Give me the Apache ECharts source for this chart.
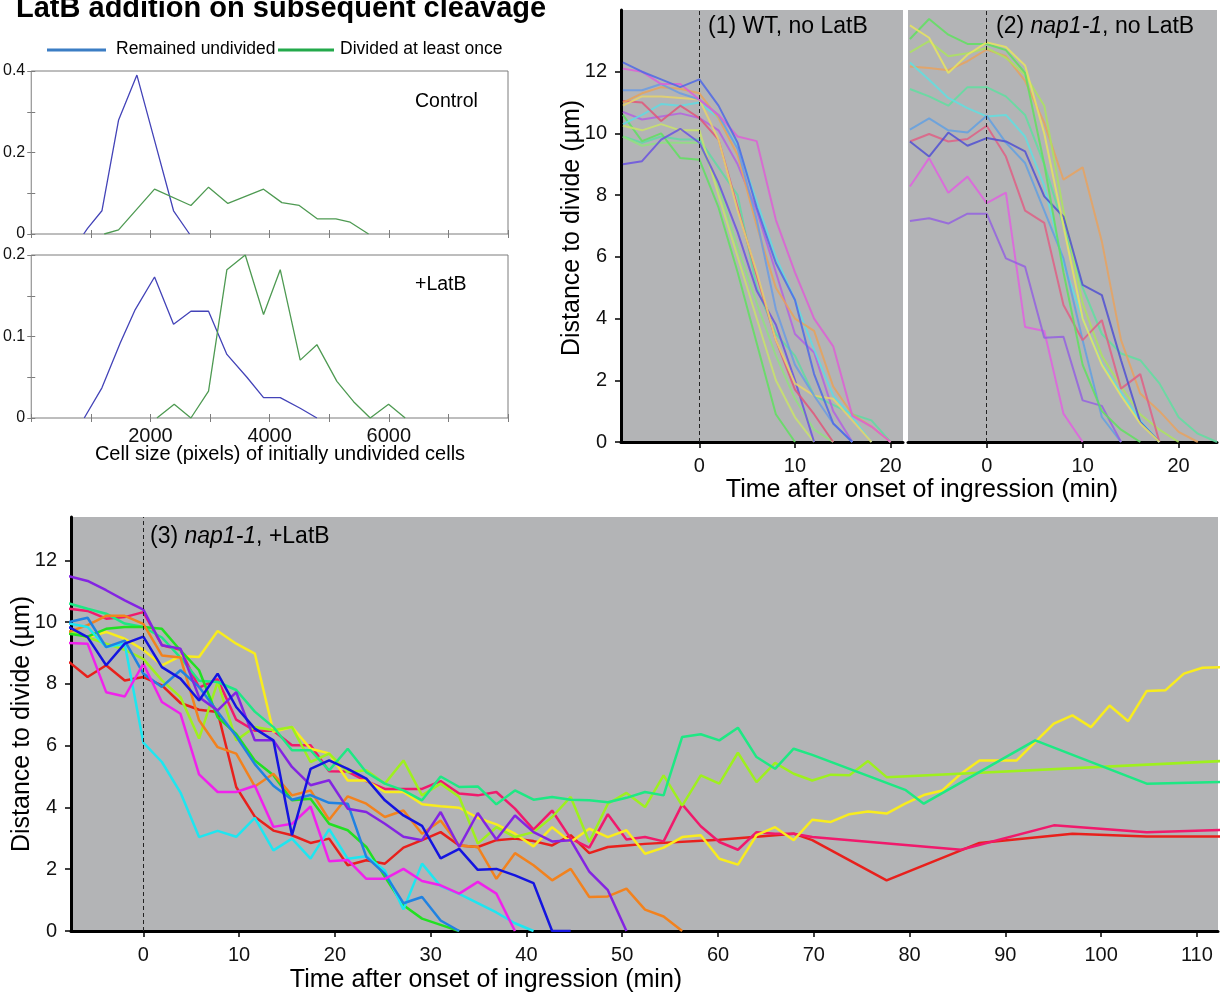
<!DOCTYPE html>
<html>
<head>
<meta charset="utf-8">
<script src="https://cdn.jsdelivr.net/npm/echarts@6/dist/echarts.min.js"></script>
<style>
html,body{margin:0;padding:0;background:#fff;}
#c{width:1229px;height:995px;}
</style>
</head>
<body>
<div id="c"></div>
<script>
const FONT = "'Liberation Sans', Arial, Helvetica, sans-serif";

// ---------- Histograms (cell size, fraction) ----------
const ctrlUndivided = [[880,0],[945,0.014],[1186,0.057],[1466,0.28],[1773,0.39],[2052,0.239],[2388,0.057],[2656,0]];
const ctrlDivided = [[1225,0],[1465,0.01],[2069,0.11],[2679,0.07],[2975,0.115],[3300,0.075],[3898,0.11],[4206,0.077],[4497,0.07],[4804,0.037],[5112,0.037],[5352,0.029],[5660,0]];
const latbUndivided = [[889,0],[1186,0.037],[1493,0.092],[1745,0.133],[2069,0.173],[2388,0.115],[2679,0.131],[2975,0.131],[3283,0.078],[3619,0.05],[3898,0.025],[4178,0.025],[4513,0.012],[4793,0]];
const latbDivided = [[2109,0],[2399,0.017],[2679,0],[2975,0.033],[3283,0.182],[3591,0.2],[3898,0.127],[4178,0.182],[4513,0.071],[4793,0.09],[5129,0.045],[5409,0.02],[5688,0],[5996,0.017],[6275,0]];
const histXLabels = [2000, 4000, 6000];

// ---------- Panels (1) and (2): times every 2 min from -8 ----------
const T12 = [-8,-6,-4,-2,0,2,4,6,8,10,12,14,16,18,20,22,24];
const p1Blue    = [12.3, 12.0, 11.75, 11.5, 11.75, 10.9, 9.7, 7.6, 5.8, 4.6, 2.2, 0.6, 0];
const p1Magenta = [12.1, 12.0, 11.6, 11.6, 11.1, 10.6, 9.9, 9.75, 7.2, 5.5, 4.0, 3.1, 0.85, 0.5, 0];
const p1Steel   = [11.4, 11.4, 11.6, 11.3, 11.1, 10.6, 9.5, 7.2, 4.3, 2.5, 1.5, 0.6, 0];
const p1Orange  = [11.0, 11.3, 11.5, 11.45, 11.3, 10.5, 9.3, 7.0, 5.0, 4.0, 3.6, 1.8, 0.9, 0.5, 0];
const p1Yellow  = [10.9, 11.2, 11.2, 11.15, 11.1, 9.8, 7.5, 5.5, 3.3, 1.9, 1.5, 1.4, 0.7, 0];
const p1Red     = [11.05, 11.0, 10.4, 10.9, 10.5, 9.8, 7.6, 5.4, 3.3, 1.7, 0.9, 0];
const p1Cyan    = [10.3, 10.6, 10.95, 10.9, 11.0, 10.5, 9.6, 7.8, 6.0, 4.6, 3.0, 1.5, 0.8, 0];
const p1Purple  = [10.7, 10.45, 10.55, 10.65, 10.5, 10.1, 9.0, 7.5, 5.5, 3.5, 2.9, 1.0, 0];
const p1Lime    = [10.25, 10.1, 10.3, 10.1, 10.1, 8.0, 6.0, 4.0, 2.0, 0.8, 0];
const p1Green   = [10.6, 9.75, 10.0, 9.2, 9.15, 7.6, 5.5, 3.2, 0.9, 0];
const p1Light   = [9.9, 9.6, 9.7, 9.7, 9.7, 8.3, 6.3, 4.5, 2.8, 1.4, 0.4, 0];
const p1Indigo  = [9.0, 9.1, 9.8, 10.15, 9.7, 8.4, 6.8, 4.9, 3.8, 2.0, 0];
const p1Sea     = [9.9, 9.7, 9.9, 9.8, 9.8, 8.9, 8.0, 5.0, 3.5, 2.8, 1.5, 1.2, 0.9, 0.7, 0];

const p2Green   = [13.06, 13.71, 13.2, 12.9, 12.9, 12.7, 11.96, 9.0, 5.5, 2.5, 1.0, 0.4, 0];
const p2Yellow  = [13.5, 13.1, 11.96, 12.55, 12.95, 12.8, 12.2, 10.0, 7.0, 4.0, 2.5, 1.5, 0.6, 0];
const p2Lime    = [12.63, 12.99, 12.5, 12.6, 12.77, 12.45, 11.9, 10.9, 7.5, 4.5, 2.8, 1.8, 0.9, 0.4, 0];
const p2Orange  = [12.17, 12.12, 12.05, 12.34, 12.72, 12.5, 11.7, 10.34, 8.5, 8.9, 6.5, 3.3, 1.57, 1.0, 0.33, 0];
const p2Teal    = [11.44, 11.2, 10.9, 11.5, 11.5, 11.2, 10.6, 9.0, 7.0, 5.0, 3.5, 2.87, 2.65, 1.9, 0.8, 0.27, 0];
const p2Cyan    = [12.3, 11.74, 11.15, 10.82, 10.55, 10.6, 9.9, 8.3, 5.8, 4.0, 2.54, 1.6, 0.7, 0];
const p2Steel   = [10.12, 10.49, 10.1, 10.03, 10.57, 9.7, 9.04, 7.5, 5.95, 3.3, 0.81, 0];
const p2Red     = [9.74, 9.98, 9.74, 9.82, 10.25, 9.25, 7.5, 7.1, 4.44, 3.3, 3.95, 1.73, 2.2, 0];
const p2Blue    = [9.74, 9.25, 10.03, 9.6, 9.85, 9.74, 9.42, 7.96, 7.3, 5.09, 4.76, 2.65, 0.65, 0];
const p2Magenta = [8.28, 9.2, 8.08, 8.6, 7.74, 8.08, 3.73, 3.6, 0.92, 0];
const p2Purple  = [7.16, 7.25, 7.08, 7.4, 7.4, 5.95, 5.68, 3.38, 3.41, 1.35, 1.17, 0];

// ---------- Panel (3): frames every ~1.94 min ----------
const T3 = [-7.76,-5.82,-3.88,-1.94,0,1.94,3.88,5.82,7.76,9.7,11.64,13.58,15.52,17.46,19.4,21.34,23.28,25.22,27.16,29.1,31.04,32.98,34.92,36.86,38.8,40.74,42.68,44.62,46.56,48.5,50.44,52.38,54.32,56.26,58.2,60.14,62.08,64.02,65.96,67.9,69.84,71.78,73.72,75.66,77.6,79.54,81.48,83.42,85.36,87.3,89.24,91.18,93.12,95.06,97.0,98.94,100.88,102.82,104.76,106.7,108.64,110.58,112.52];
const _ = null;
const p3Purple  = [11.48,11.33,11.03,10.7,10.4,9.25,9.14,7.57,7.14,7.73,6.17,6.17,5.31,4.72,4.88,3.96,3.85,3.47,3.05,2.94,3.85,2.72,3.82,2.96,3.74,3.2,2.9,2.94,1.92,1.32,0];
const p3Blue    = [9.84,9.51,8.6,9.3,9.53,8.54,8.17,7.46,8.33,7.25,6.55,6.17,3.1,5.25,5.52,5.25,4.93,4.23,3.74,3.4,2.35,2.66,1.98,2.01,1.8,1.55,0,0];
const p3Red     = [8.71,8.22,8.6,8.11,8.22,7.95,7.38,7.16,7.09,4.66,3.7,3.25,3.1,2.85,2.99,2.13,2.29,2.18,2.7,2.94,3.2,2.77,2.72,2.94,2.99,2.91,2.77,3.1,2.52,2.72,2.77,2.82,_,_,_,2.95,_,_,_,3.15,2.94,_,_,_,1.64,_,_,_,_,2.85,_,_,_,_,3.15,_,_,_,3.06,_,_,_,3.06];
const p3Crimson = [10.43,10.36,10.11,10.16,10.32,9.25,9.1,7.88,8.15,6.84,6.48,6.48,6.01,6.01,5.17,5.16,4.85,4.6,4.6,4.6,4.85,4.45,4.39,4.5,3.96,3.28,3.9,2.99,2.7,3.78,2.96,3.04,2.9,4.1,3.39,2.88,2.63,3.2,3.15,3.15,3.04,_,_,_,_,_,_,_,2.63,_,_,_,_,3.42,_,_,_,_,3.2,_,_,_,3.27];
const p3Yellow  = [9.68,9.51,9.68,9.46,9.1,8.6,8.9,8.87,9.71,9.3,8.98,6.45,6.6,5.9,5.75,4.87,4.87,4.5,4.5,4.1,4.04,3.99,3.66,3.45,3.15,2.74,3.36,2.88,3.31,3.04,3.26,2.5,2.7,3.04,3.1,2.34,2.15,3.1,3.36,2.94,3.6,3.53,3.78,3.87,3.8,4.12,4.4,4.55,5.09,5.52,5.52,5.52,6.12,6.71,6.98,6.6,7.3,6.79,7.77,7.79,8.33,8.52,8.54];
const p3Lime    = [9.7,9.5,9.3,9.1,8.81,8.11,7.57,6.23,8.06,6.17,6.6,6.5,6.6,5.47,5.74,5.14,5.2,4.77,5.52,4.39,4.77,4.34,2.83,3.36,3.04,3.2,3.69,4.34,2.88,4.12,4.47,4.01,5.04,4.06,5.04,4.77,5.77,4.82,5.44,5.09,4.87,5.06,5.04,5.5,4.98,_,_,_,_,_,_,_,_,_,_,_,_,_,_,_,_,_,5.5];
const p3Green   = [9.62,9.53,9.78,9.84,9.84,9.78,9.08,8.44,6.92,6.38,5.52,5.04,4.23,4.28,3.47,3.26,2.72,1.75,0.83,0.4,0.2,0];
const p3Spring  = [10.6,10.43,10.27,9.95,9.84,9.5,8.85,8.1,8.06,7.8,7.1,6.6,5.85,5.85,5.2,5.9,5.14,4.77,4.55,4.23,5.0,4.66,4.68,4.1,4.55,4.25,4.34,4.25,4.23,4.17,4.31,4.5,4.39,6.28,6.37,6.17,6.58,5.63,5.25,5.9,5.7,_,_,_,_,4.57,4.12,_,_,_,_,_,6.17,_,_,_,_,_,4.77,_,_,_,4.82];
const p3Orange  = [9.68,9.9,10.2,10.2,9.94,8.92,8.85,6.82,5.95,5.74,4.68,5.09,4.39,4.55,3.6,4.36,4.12,3.69,3.9,3.15,3.58,2.77,2.72,1.69,2.52,2.13,1.64,2.01,1.1,1.12,1.37,0.69,0.47,0];
const p3Cyan    = [9.95,9.84,9.19,9.3,6.1,5.47,4.48,3.04,3.24,3.05,3.66,2.61,2.99,2.34,3.3,2.34,2.42,1.96,0.7,2.18,1.45,1.2,0.9,0.6,0.25,0];
const p3Steel   = [10.0,10.14,9.19,9.4,8.33,7.9,8.44,7.9,7.1,6.3,5.4,4.7,4.25,4.4,4.15,4.12,2.4,1.85,0.9,1.1,0.34,0];
const p3Magenta = [9.32,9.3,7.73,7.59,8.65,7.41,7.03,5.07,4.5,4.5,4.7,3.37,3.47,4.03,2.26,2.3,1.69,1.69,2.01,1.62,1.48,1.21,1.59,1.21,0];

// ---------- helpers ----------
function pairs(times, vals) {
  const out = [];
  vals.forEach((v, i) => out.push([times[i], v]));
  return out;
}
function ln(data, color, xi, yi, width, opacity, extra) {
  return Object.assign({
    type: 'line', data: data, xAxisIndex: xi, yAxisIndex: yi,
    symbol: 'none', connectNulls: true, silent: true, animation: false, z: 3,
    lineStyle: { color: color, width: width, opacity: opacity }
  }, extra || {});
}
const dashMark = {
  markLine: {
    silent: true, symbol: ['none', 'none'], animation: false,
    label: { show: false },
    lineStyle: { color: '#222', width: 1, type: [4, 3] },
    data: [{ xAxis: 0 }]
  }
};

// ---------- axes ----------
const grayBorder = '#7d7d7d';
function histX(gi, showLabels) {
  return {
    type: 'value', gridIndex: gi, min: 0, max: 8000, interval: 1000, position: 'bottom',
    axisLine: { show: false }, splitLine: { show: false },
    axisTick: { show: true, inside: true, length: 4, lineStyle: { color: grayBorder } },
    axisLabel: {
      show: showLabels, color: '#111', fontSize: 20, fontFamily: FONT, margin: 8,
      formatter: v => histXLabels.indexOf(v) >= 0 ? String(v) : ''
    }
  };
}
function histXTop(gi) {
  return {
    type: 'value', gridIndex: gi, min: 0, max: 8000, interval: 1000, position: 'top',
    axisLine: { show: false }, splitLine: { show: false },
    axisTick: { show: true, inside: true, length: 4, lineStyle: { color: grayBorder } },
    axisLabel: { show: false }
  };
}
function histY(gi, max, interval, labelStep, pos) {
  return {
    type: 'value', gridIndex: gi, min: 0, max: max, interval: interval, position: pos,
    axisLine: { show: false }, splitLine: { show: false },
    axisTick: { show: true, inside: true, length: 4, lineStyle: { color: grayBorder } },
    axisLabel: {
      show: pos === 'left', color: '#111', fontSize: 16, fontFamily: FONT, margin: 6,
      formatter: v => {
        const r = Math.round(v / interval);
        return (r % labelStep === 0) ? String(Math.round(v * 10) / 10) : '';
      }
    }
  };
}
function panelX(gi, min, max, ticks, size) {
  return {
    type: 'value', gridIndex: gi, min: min, max: max,
    axisLine: { show: true, onZero: false, lineStyle: { color: '#000', width: 3 } },
    splitLine: { show: false },
    axisTick: { show: true, inside: false, length: 6, customValues: ticks, lineStyle: { color: '#000', width: 1.5 } },
    axisLabel: { show: true, customValues: ticks, color: '#111', fontSize: size, fontFamily: FONT, margin: 14 }
  };
}
function panelY(gi, max, ticks, visible) {
  return {
    type: 'value', gridIndex: gi, min: 0, max: max,
    axisLine: { show: visible, onZero: false, lineStyle: { color: '#000', width: 3 } },
    splitLine: { show: false },
    axisTick: { show: visible, inside: false, length: 6, customValues: ticks, lineStyle: { color: '#000', width: 1.5 } },
    axisLabel: { show: visible, customValues: ticks, color: '#111', fontSize: 20, fontFamily: FONT, margin: 14 }
  };
}
const TICKS_A = [0, 10, 20];
const TICKS_B = [0,10,20,30,40,50,60,70,80,90,100,110];
const TICKS_Y = [0, 2, 4, 6, 8, 10, 12];
const PANEL_BG = '#b3b4b6';

const grids = [
  { left: 31, top: 71, width: 477, height: 163, show: true, borderColor: grayBorder, borderWidth: 1, backgroundColor: '#fff' },
  { left: 31, top: 255, width: 477, height: 163, show: true, borderColor: grayBorder, borderWidth: 1, backgroundColor: '#fff' },
  { left: 621, top: 10, width: 282, height: 432, show: true, borderWidth: 0, backgroundColor: PANEL_BG },
  { left: 908, top: 10, width: 309, height: 432, show: true, borderWidth: 0, backgroundColor: PANEL_BG },
  { left: 71, top: 517, width: 1147, height: 414, show: true, borderWidth: 0, backgroundColor: PANEL_BG }
];

const xAxes = [
  histX(0, false), histXTop(0), histX(1, true), histXTop(1),
  panelX(2, -8.2, 21.3, TICKS_A, 20), panelX(3, -8.2, 24.0, TICKS_A, 20), panelX(4, -7.55, 112.2, TICKS_B, 20)
];
const yAxes = [
  histY(0, 0.4, 0.1, 2, 'left'), histY(0, 0.4, 0.1, 2, 'right'),
  histY(1, 0.2, 0.05, 2, 'left'), histY(1, 0.2, 0.05, 2, 'right'),
  panelY(2, 14, TICKS_Y, true), panelY(3, 14, TICKS_Y, false), panelY(4, 13.4, TICKS_Y, true)
];

const HBLUE = '#4343b8', HGREEN = '#4e9a52';
const series = [
  ln(ctrlUndivided, HBLUE, 0, 0, 1.3, 1),
  ln(ctrlDivided, HGREEN, 0, 0, 1.3, 1),
  ln(latbUndivided, HBLUE, 2, 2, 1.3, 1),
  ln(latbDivided, HGREEN, 2, 2, 1.3, 1)
];

const p1 = [
  [p1Sea, '#5fdba2'], [p1Light, '#8fe27e'], [p1Green, '#5fe05f'], [p1Lime, '#c9e36a'],
  [p1Indigo, '#6a52e0'], [p1Purple, '#b462e0'], [p1Cyan, '#5fdbe3'], [p1Red, '#e0567a'],
  [p1Yellow, '#e6d46a'], [p1Orange, '#e8a259'], [p1Steel, '#6b9be3'], [p1Magenta, '#dd5fd6'],
  [p1Blue, '#4f68e6']
];
p1.forEach((s, i) => series.push(ln(pairs(T12, s[0]), s[1], 4, 4, 2, 0.85, i === 0 ? dashMark : null)));

const p2 = [
  [p2Teal, '#5fdfa0'], [p2Orange, '#e8a25f'], [p2Lime, '#abe35f'], [p2Cyan, '#5fdfe0'],
  [p2Steel, '#62a0e2'], [p2Red, '#df5f85'], [p2Blue, '#5050d2'], [p2Magenta, '#e060e0'],
  [p2Purple, '#9462e0'], [p2Green, '#5fe05f'], [p2Yellow, '#e8e45f']
];
p2.forEach((s, i) => series.push(ln(pairs(T12, s[0]), s[1], 5, 5, 2, 0.85, i === 0 ? dashMark : null)));

const p3 = [
  [p3Red, '#e8201c'], [p3Crimson, '#f01a6c'], [p3Yellow, '#f8ec1e'], [p3Lime, '#9ef01e'],
  [p3Spring, '#1ee884'], [p3Green, '#22e022'], [p3Orange, '#f2821e'], [p3Cyan, '#1ee6f0'],
  [p3Steel, '#2082e2'], [p3Magenta, '#f022ec'], [p3Purple, '#8424e2'], [p3Blue, '#1414e0']
];
p3.forEach((s, i) => series.push(ln(pairs(T3, s[0]), s[1], 6, 6, 2.5, 1, i === 0 ? dashMark : null)));

function txt(x, y, text, size, extra, styleExtra) {
  return Object.assign({
    type: 'text', x: x, y: y, silent: true, z: 10,
    style: Object.assign({
      text: text, fontSize: size, fontFamily: FONT, fill: '#000',
      align: 'left', verticalAlign: 'middle'
    }, styleExtra || {})
  }, extra || {});
}
const italicRich = { i: { fontStyle: 'italic', fontSize: 23, fontFamily: FONT, fill: '#000' } };

const graphic = [
  txt(16, 9, 'LatB addition on subsequent cleavage', 29, null, { fontWeight: 'bold' }),
  { type: 'line', silent: true, shape: { x1: 47, y1: 50, x2: 106, y2: 50 }, style: { stroke: '#3b7dc4', lineWidth: 3 } },
  txt(116, 49, 'Remained undivided', 17.5),
  { type: 'line', silent: true, shape: { x1: 278, y1: 50, x2: 334, y2: 50 }, style: { stroke: '#23a94b', lineWidth: 3 } },
  txt(340, 49, 'Divided at least once', 17.5),
  txt(415, 102, 'Control', 19.5),
  txt(415, 285, '+LatB', 19.5),
  txt(280, 454, 'Cell size (pixels) of initially undivided cells', 20, null, { align: 'center' }),
  txt(708, 27, '(1) WT, no LatB', 23),
  txt(996, 27, '(2) {i|nap1-1}, no LatB', 23, null, { rich: italicRich }),
  txt(150, 537, '(3) {i|nap1-1}, +LatB', 23, null, { rich: italicRich }),
  txt(572, 228, 'Distance to divide (µm)', 25, { rotation: Math.PI / 2 }, { align: 'center' }),
  txt(922, 490, 'Time after onset of ingression (min)', 25, null, { align: 'center' }),
  txt(22, 724, 'Distance to divide (µm)', 25, { rotation: Math.PI / 2 }, { align: 'center' }),
  txt(486, 980, 'Time after onset of ingression (min)', 25, null, { align: 'center' })
];

const chart = echarts.init(document.getElementById('c'), null, { renderer: 'canvas' });
chart.setOption({
  animation: false,
  backgroundColor: '#fff',
  grid: grids,
  xAxis: xAxes,
  yAxis: yAxes,
  series: series,
  graphic: graphic
});
</script>
</body>
</html>
